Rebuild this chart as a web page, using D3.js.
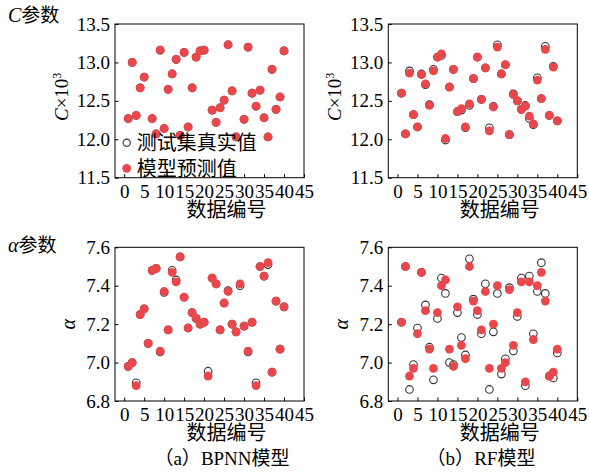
<!DOCTYPE html>
<html>
<head>
<meta charset="utf-8">
<style>
    body { margin: 0; background: #fff; }
    svg {
        display: block;
        font-family: 'Liberation Serif', 'Noto Sans CJK SC', serif;
    }
    .tick text { font-size: 19px; font-family: 'Liberation Serif', serif; }
    .cjk { font-family: 'Noto Sans CJK SC', sans-serif; }
</style>
</head>
<body>
<svg width="589" height="473"></svg>

<script src="https://d3js.org/d3.v7.min.js"></script>
<script>
    // sample numbers of the test set
    const sampleNo = [1, 2, 3, 4, 5, 6, 7, 8, 9, 10, 11, 12, 13, 14, 15, 16, 17, 18, 19, 20,
        21, 22, 23, 24, 25, 26, 27, 28, 29, 30, 31, 32, 33, 34, 35, 36, 37, 38, 39, 40];
    const xTicks = [0, 5, 10, 15, 20, 25, 30, 35, 40, 45];
    const cTicks = [11.5, 12.0, 12.5, 13.0, 13.5];
    const aTicks = [6.8, 7.0, 7.2, 7.4, 7.6];

    // (a) BPNN, C x 10^3  (null = not visible in the figure)
    const bpnnC_pred = [12.27, 13.00, 12.31, 12.67, 12.81, null, 12.27, 12.07, 13.16, 12.14,
        12.65, 12.85, 13.04, 12.05, 13.13, 12.16, 12.67, 13.07, 13.15, 13.16,
        null, 12.38, 12.22, 12.41, 12.51, 13.23, 12.63, 12.03, null, 12.26,
        13.20, 12.60, 12.43, 12.64, 12.28, 12.03, 12.91, 12.39, 12.55, 13.15];
    const bpnnC_true = [12.27, 13.00, 12.31, 12.67, 12.81, null, 12.27, 12.07, 13.16, 12.14,
        12.65, 12.85, 13.04, 12.05, 13.13, 12.16, 12.67, 13.07, 13.15, 13.16,
        null, 12.38, 12.22, 12.41, 12.51, 13.23, 12.63, 12.03, null, 12.26,
        13.20, 12.60, 12.43, 12.64, 12.28, 12.03, 12.91, 12.39, 12.55, 13.15];

    // (b) RF, C x 10^3
    const rfC_pred = [12.60, 12.07, 12.86, 12.32, 12.16, 12.84, 12.72, 12.44, 12.89, 13.07,
        13.11, 12.01, 12.68, 12.91, 12.36, 12.40, 12.16, 12.46, 12.79, 13.07,
        12.52, 12.93, 12.11, 12.42, 13.20, 12.85, 12.97, 12.06, 12.58, 12.50,
        12.39, 12.43, 12.30, 12.20, 12.77, 12.53, 13.17, 12.31, 12.94, 12.24];
    const rfC_true = [12.60, 12.07, 12.89, 12.32, 12.16, 12.85, 12.71, 12.45, 12.91, 13.07,
        13.09, 11.99, 12.68, 12.91, 12.36, 12.38, 12.15, 12.44, 12.79, 13.07,
        12.52, 12.93, 12.15, 12.43, 13.23, 12.85, 12.97, 12.06, 12.59, 12.50,
        12.39, 12.44, 12.27, 12.19, 12.80, 12.53, 13.21, 12.31, 12.95, 12.24];

    // (a) BPNN, alpha
    const bpnnA_pred = [6.98, 7.00, 6.88, 7.25, 7.28, 7.10, 7.48, 7.49, 7.06, 7.37,
        7.17, 7.47, 7.42, 7.55, 7.34, 7.18, 7.26, 7.23, 7.20, 7.21,
        6.93, 7.44, 7.41, 7.17, 7.31, 7.37, 7.20, 7.16, 7.41, 7.19,
        7.06, 7.21, 6.88, 7.50, 7.45, 7.52, 6.95, 7.32, 7.07, 7.29];
    const bpnnA_true = [6.98, 7.00, 6.895, 7.25, 7.28, 7.10, 7.48, 7.49, 7.055, 7.365,
        7.17, 7.48, 7.43, 7.55, 7.34, 7.18, 7.26, 7.23, 7.20, 7.21,
        6.955, 7.44, 7.41, 7.17, 7.31, 7.375, 7.20, 7.16, 7.40, 7.19,
        7.055, 7.21, 6.895, 7.50, 7.45, 7.51, 6.95, 7.32, 7.07, 7.29];

    // (b) RF, alpha
    const rfA_pred = [7.21, 7.50, 6.93, 6.97, 7.15, 7.47, 7.27, 7.07, 6.97, 7.26,
        7.40, 7.43, 7.07, 6.98, 7.29, 7.09, 7.02, 7.50, 7.32, 7.27,
        7.17, 7.37, 6.97, 7.20, 7.40, 6.97, 7.00, 7.38, 7.09, 7.26,
        7.42, 6.90, 7.42, 7.12, 7.40, 7.47, 7.32, 6.93, 6.95, 7.07];
    const rfA_true = [7.21, 7.50, 6.86, 6.99, 7.18, 7.47, 7.30, 7.08, 6.91, 7.23,
        7.44, 7.36, 7.00, 6.99, 7.26, 7.13, 7.04, 7.54, 7.33, 7.25,
        7.15, 7.41, 6.86, 7.16, 7.36, 6.94, 7.02, 7.39, 7.06, 7.24,
        7.44, 6.88, 7.45, 7.15, 7.37, 7.52, 7.36, 6.93, 6.92, 7.05];

    const red = "#e8474b";
    const ringColor = "#333";

    let svg = d3.select("svg");

    let panels = [
        { left: 115, top: 24, yDomain: [11.5, 13.5], yTicks: cTicks, pred: bpnnC_pred, truth: bpnnC_true, kind: "C", legend: true },
        { left: 388.3, top: 24, yDomain: [11.5, 13.5], yTicks: cTicks, pred: rfC_pred, truth: rfC_true, kind: "C" },
        { left: 115, top: 247.3, yDomain: [6.8, 7.6], yTicks: aTicks, pred: bpnnA_pred, truth: bpnnA_true, kind: "a" },
        { left: 388.3, top: 247.3, yDomain: [6.8, 7.6], yTicks: aTicks, pred: rfA_pred, truth: rfA_true, kind: "a" }
    ];

    let pw = 189, ph = 153.7;

    panels.forEach(p => {
        let g = svg.append("g").attr("transform", `translate(${p.left},${p.top})`);

        let x = d3.scaleLinear().domain([-2.3, 45]).range([0, pw]);
        let y = d3.scaleLinear().domain(p.yDomain).range([ph, 0]);

        let xAxis = g.append("g")
            .attr("transform", `translate(0,${ph})`)
            .call(d3.axisBottom(x).tickValues(xTicks).tickSizeInner(-3.5).tickSizeOuter(0).tickPadding(6.5));
        let yAxis = g.append("g")
            .call(d3.axisLeft(y).tickValues(p.yTicks).tickFormat(d3.format(".1f")).tickSizeInner(-3.5).tickSizeOuter(0).tickPadding(5));
        [xAxis, yAxis].forEach(a => {
            a.select(".domain").remove();
            a.selectAll(".tick line").attr("stroke", "#000");
            a.selectAll(".tick text").attr("fill", "#000");
        });

        // frame
        g.append("rect")
            .attr("width", pw).attr("height", ph)
            .attr("fill", "none").attr("stroke", "#000").attr("stroke-width", 1);

        let pts = sampleNo.map((n, i) => ({ n: n, p: p.pred[i], t: p.truth[i] }))
            .filter(d => d.p != null);

        // true values (open circles) underneath, predictions on top
        g.selectAll(".truth")
            .data(pts)
            .join("circle")
            .attr("cx", d => x(d.n))
            .attr("cy", d => y(d.t))
            .attr("r", 3.8)
            .attr("fill", "none")
            .attr("stroke", ringColor)
            .attr("stroke-width", 1.1);

        g.selectAll(".pred")
            .data(pts)
            .join("circle")
            .attr("cx", d => x(d.n))
            .attr("cy", d => y(d.p))
            .attr("r", 4.4)
            .attr("fill", red);

        // x title
        g.append("text")
            .attr("class", "cjk")
            .attr("x", pw / 2 + 17)
            .attr("y", ph + 39)
            .attr("text-anchor", "middle")
            .style("font-size", "20px")
            .text("数据编号");

        // y title
        if (p.kind == "C") {
            let t = g.append("text")
                .attr("transform", `translate(-47,${ph / 2 - 4}) rotate(-90)`)
                .attr("text-anchor", "middle")
                .style("font-size", "19px");
            t.append("tspan").style("font-style", "italic").text("C");
            t.append("tspan").text("×10");
            t.append("tspan").attr("dy", -7).style("font-size", "12px").text("3");
        } else {
            g.append("text")
                .attr("transform", `translate(-40,${ph / 2}) rotate(-90)`)
                .attr("text-anchor", "middle")
                .style("font-size", "20px")
                .style("font-style", "italic")
                .text("α");
        }

        if (p.legend) {
            let lg = g.append("g").attr("transform", `translate(${126.7 - p.left},${142.7 - p.top})`);
            lg.append("circle").attr("r", 3.6).attr("fill", "none").attr("stroke", ringColor).attr("stroke-width", 1.1);
            lg.append("circle").attr("cy", 25.6).attr("r", 4.4).attr("fill", red);
            lg.append("text").attr("class", "cjk").attr("x", 10).attr("y", 7.5)
                .style("font-size", "20px").text("测试集真实值");
            lg.append("text").attr("class", "cjk").attr("x", 10).attr("y", 33)
                .style("font-size", "20px").text("模型预测值");
        }
    });

    // row titles
    let t1 = svg.append("text").attr("x", 8).attr("y", 22).style("font-size", "20px");
    t1.append("tspan").style("font-style", "italic").text("C");
    t1.append("tspan").attr("class", "cjk").style("font-size", "19px").text("参数");

    let t2 = svg.append("text").attr("x", 8).attr("y", 252).style("font-size", "20px");
    t2.append("tspan").style("font-style", "italic").text("α");
    t2.append("tspan").attr("class", "cjk").style("font-size", "19px").text("参数");

    // captions
    let c1 = svg.append("text").attr("x", 222).attr("y", 465).attr("text-anchor", "middle").style("font-size", "19px");
    c1.append("tspan").attr("class", "cjk").text("（");
    c1.append("tspan").text("a");
    c1.append("tspan").attr("class", "cjk").text("）");
    c1.append("tspan").text("BPNN");
    c1.append("tspan").attr("class", "cjk").text("模型");

    let c2 = svg.append("text").attr("x", 481).attr("y", 465).attr("text-anchor", "middle").style("font-size", "19px");
    c2.append("tspan").attr("class", "cjk").text("（");
    c2.append("tspan").text("b");
    c2.append("tspan").attr("class", "cjk").text("）");
    c2.append("tspan").text("RF");
    c2.append("tspan").attr("class", "cjk").text("模型");
</script>
</body>
</html>
